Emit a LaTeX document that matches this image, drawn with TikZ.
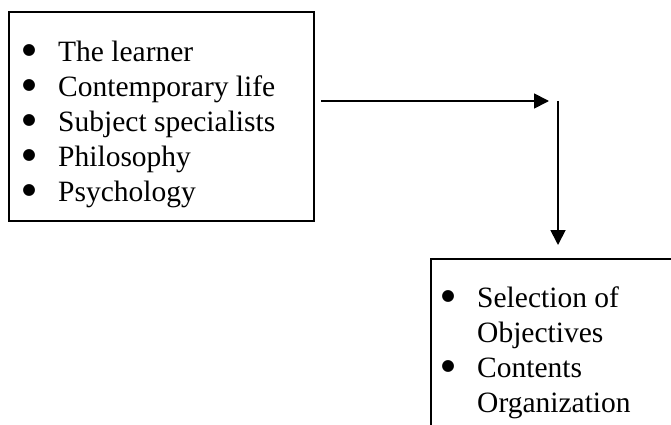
\documentclass[tikz,border=0pt]{standalone}
\usepackage{fontspec}
\setmainfont{Liberation Serif}
\newfontfamily\dotfont{DejaVu Sans}
\usetikzlibrary{arrows.meta}

\newcommand{\bdot}{\makebox[10pt][c]{\raisebox{6.5pt}{\dotfont\fontsize{15.5}{15.5}\selectfont ●}}\hspace*{24pt}}
\newcommand{\bitem}[1]{\bdot#1\strut}
\newcommand{\bnext}[1]{\hspace*{34pt}#1\strut}

\begin{document}
\begin{tikzpicture}[x=1pt,y=-1pt,
    listbox/.style={draw,line width=2pt,outer sep=0pt,inner sep=0pt,anchor=north west},
    listtext/.style={anchor=north west,inner sep=0pt,align=left,font=\fontsize{29.5}{35}\selectfont},
    flow/.style={line width=1.8pt,-{Triangle[length=15pt,width=15pt]}}]
  \clip (0,0) rectangle (671,425);
  % source box
  \node[listbox,minimum width=305pt,minimum height=209pt] (src) at (9,12) {};
  \node[listtext] (srcitems) at (24,36.5) {\bitem{The learner}\\
    \bitem{Contemporary life}\\
    \bitem{Subject specialists}\\
    \bitem{Philosophy}\\
    \bitem{Psychology}};
  % target box, cut off at the page edge
  \node[listbox,minimum width=300pt,minimum height=220pt] (dst) at (431,259) {};
  \node[listtext] (dstitems) at (443,282.5) {\bitem{Selection of}\\
    \bnext{Objectives}\\
    \bitem{Contents}\\
    \bnext{Organization}};
  % connectors
  \coordinate (turn) at (558,101);
  \draw[flow,shorten <=7pt,shorten >=9pt] (src.east |- turn) -- (turn);
  \draw[flow,shorten >=14pt] (turn) -- (turn |- dst.north);
\end{tikzpicture}
\end{document}
